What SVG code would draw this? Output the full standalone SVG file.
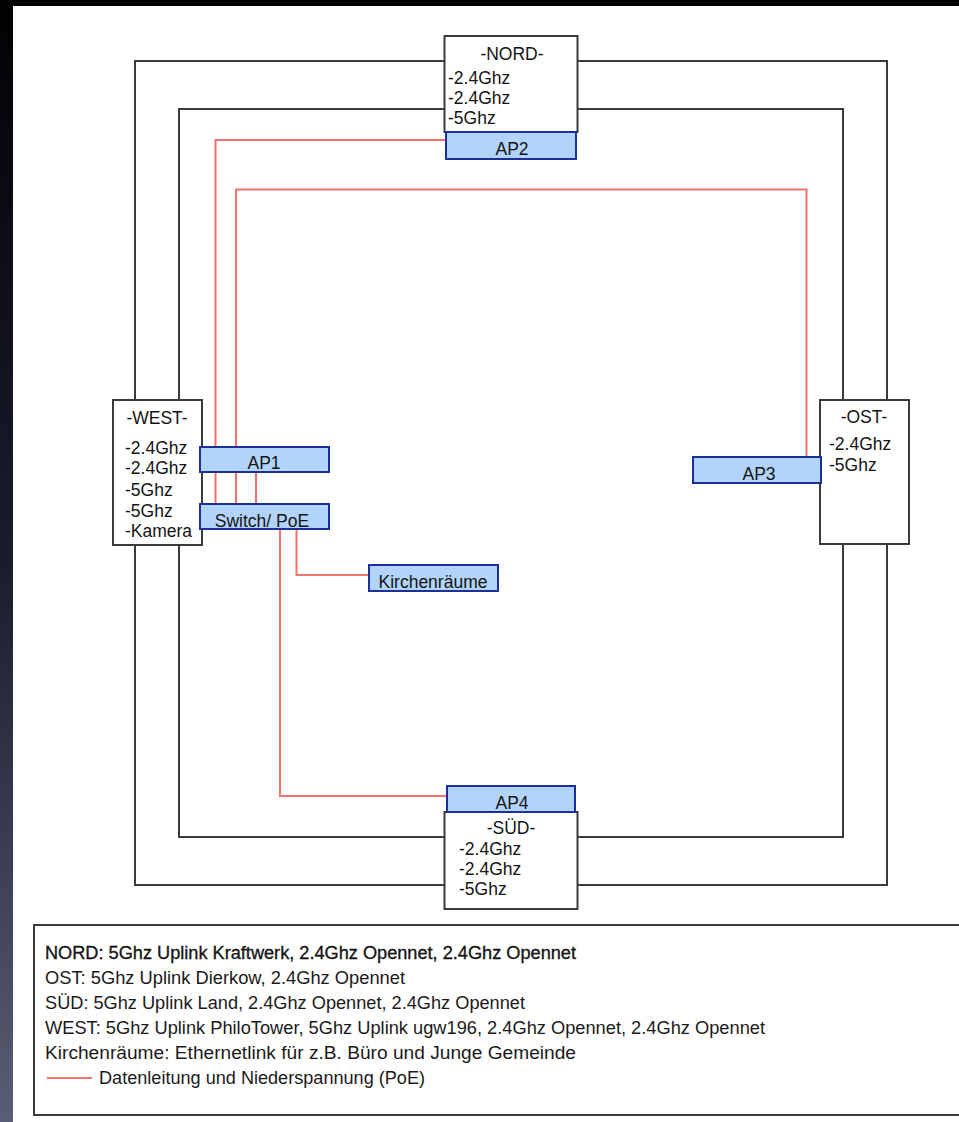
<svg xmlns="http://www.w3.org/2000/svg" width="959" height="1122" viewBox="0 0 959 1122">
  <defs>
    <linearGradient id="strip" x1="0" y1="0" x2="0" y2="1">
      <stop offset="0" stop-color="#020204"/>
      <stop offset="0.5" stop-color="#1a1c2c"/>
      <stop offset="1" stop-color="#5a5e74"/>
    </linearGradient>
    <style>
      .wire { fill: none; stroke: #3a3a3a; stroke-width: 2; }
      .poe { fill: none; stroke: #f2726c; stroke-width: 2; }
      .box { fill: #ffffff; stroke: #3a3a3a; stroke-width: 2; }
      .ap { fill: #b2d3fb; stroke: #1d2f98; stroke-width: 2; }
      .t { font-family: "Liberation Sans", Arial, sans-serif; font-size: 17.5px; fill: #141414; }
      .c { text-anchor: middle; }
      .lg { font-family: "Liberation Sans", Arial, sans-serif; font-size: 17.5px; fill: #1a1a1a; }
    </style>
  </defs>

  <!-- background -->
  <rect x="0" y="0" width="959" height="1122" fill="#ffffff"/>
  <rect x="0" y="0" width="959" height="6" fill="#000000"/>
  <rect x="0" y="0" width="13" height="1122" fill="url(#strip)"/>

  <!-- connectors -->
  <g id="connectors">
    <rect class="wire" x="135" y="61" width="752" height="824"/>
    <rect class="wire" x="179" y="109" width="664" height="728"/>
    <polyline class="poe" points="446,140 215.5,140 215.5,504"/>
    <polyline class="poe" points="806.5,457 806.5,189.5 236,189.5 236,504"/>
    <line class="poe" x1="256" y1="472" x2="256" y2="504"/>
    <polyline class="poe" points="280,529 280,796 447,796"/>
    <polyline class="poe" points="296.5,529 296.5,575 369,575"/>
  </g>

  <!-- NORD -->
  <g id="nord">
    <rect class="box" x="444.5" y="36" width="133" height="96"/>
    <text class="t c" x="512" y="60">-NORD-</text>
    <text class="t" x="448" y="84">-2.4Ghz</text>
    <text class="t" x="448" y="104">-2.4Ghz</text>
    <text class="t" x="448" y="124">-5Ghz</text>
  </g>
  <g id="ap2">
    <rect class="ap" x="446" y="132" width="130" height="27"/>
    <text class="t c" x="512" y="155">AP2</text>
  </g>

  <!-- WEST -->
  <g id="west">
    <rect class="box" x="113" y="400" width="89" height="145"/>
    <text class="t c" x="157" y="424">-WEST-</text>
    <text class="t" x="125" y="454">-2.4Ghz</text>
    <text class="t" x="125" y="474">-2.4Ghz</text>
    <text class="t" x="125" y="496">-5Ghz</text>
    <text class="t" x="125" y="517">-5Ghz</text>
    <text class="t" x="125" y="537">-Kamera</text>
  </g>
  <g id="ap1">
    <rect class="ap" x="200" y="447" width="129" height="25"/>
    <text class="t c" x="264" y="469">AP1</text>
  </g>
  <g id="switch">
    <rect class="ap" x="200" y="504" width="129" height="25"/>
    <text class="t c" x="262" y="527">Switch/ PoE</text>
  </g>
  <g id="kirchenraeume">
    <rect class="ap" x="369" y="565" width="129" height="26"/>
    <text class="t c" x="433" y="588">Kirchenräume</text>
  </g>

  <!-- OST -->
  <g id="ost">
    <rect class="box" x="820" y="400" width="89" height="144"/>
    <text class="t c" x="864" y="423">-OST-</text>
    <text class="t" x="829" y="450">-2.4Ghz</text>
    <text class="t" x="829" y="471">-5Ghz</text>
  </g>
  <g id="ap3">
    <rect class="ap" x="693" y="457" width="128" height="26"/>
    <text class="t c" x="759" y="480">AP3</text>
  </g>

  <!-- SÜD -->
  <g id="sued">
    <rect class="box" x="444.5" y="812" width="133" height="97"/>
    <text class="t c" x="511" y="834">-SÜD-</text>
    <text class="t" x="459" y="855">-2.4Ghz</text>
    <text class="t" x="459" y="875">-2.4Ghz</text>
    <text class="t" x="459" y="895">-5Ghz</text>
  </g>
  <g id="ap4">
    <rect class="ap" x="447" y="786" width="128" height="26"/>
    <text class="t c" x="512" y="809">AP4</text>
  </g>

  <!-- legend -->
  <g id="legend">
    <rect class="box" x="34" y="925" width="940" height="190"/>
    <text class="lg" x="45" y="959" fill="#000" stroke="#000" stroke-width="0.3" textLength="531" lengthAdjust="spacingAndGlyphs">NORD: 5Ghz Uplink Kraftwerk, 2.4Ghz Opennet, 2.4Ghz Opennet</text>
    <text class="lg" x="45" y="984" textLength="360" lengthAdjust="spacingAndGlyphs">OST: 5Ghz Uplink Dierkow, 2.4Ghz Opennet</text>
    <text class="lg" x="45" y="1009" textLength="480" lengthAdjust="spacingAndGlyphs">SÜD: 5Ghz Uplink Land, 2.4Ghz Opennet, 2.4Ghz Opennet</text>
    <text class="lg" x="45" y="1034" textLength="720" lengthAdjust="spacingAndGlyphs">WEST: 5Ghz Uplink PhiloTower, 5Ghz Uplink ugw196, 2.4Ghz Opennet, 2.4Ghz Opennet</text>
    <text class="lg" x="45" y="1059" textLength="531" lengthAdjust="spacingAndGlyphs">Kirchenräume: Ethernetlink für z.B. Büro und Junge Gemeinde</text>
    <line class="poe" x1="47" y1="1078" x2="92" y2="1078"/>
    <text class="lg" x="99" y="1084" textLength="326" lengthAdjust="spacingAndGlyphs">Datenleitung und Niederspannung (PoE)</text>
  </g>
</svg>
